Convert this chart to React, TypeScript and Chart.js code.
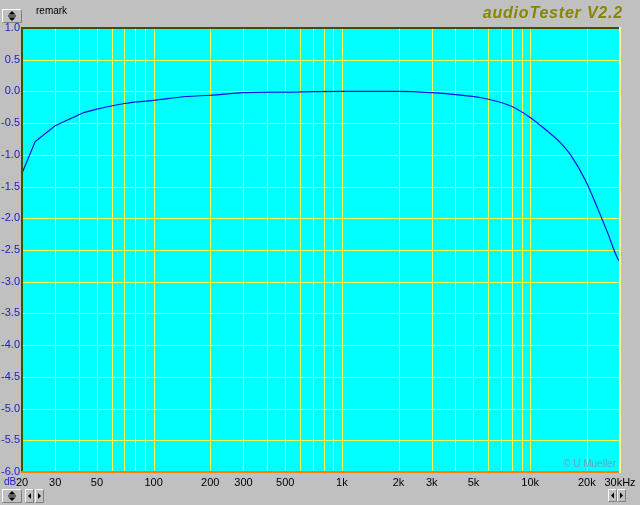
import React, { useEffect, useRef } from "react";
import { Chart, registerables } from "chart.js";

Chart.register(...registerables);

const freqsLow = [20, 23.5, 30, 42];
const levelsLow = [-1.29, -0.79, -0.54, -0.34];
const freqs = [42, 50, 70, 100, 150, 200, 300, 500, 1000, 2000, 3000, 4000, 5500, 7900, 10000, 12400, 14500, 16400, 19800, 22800, 25800, 29100, 30000];
const levels = [-0.34, -0.28, -0.19, -0.14, -0.08, -0.06, -0.02, -0.01, 0, 0, -0.02, -0.05, -0.1, -0.23, -0.41, -0.63, -0.81, -1.0, -1.42, -1.84, -2.23, -2.63, -2.68];

const gridFreqs = [20, 30, 40, 50, 60, 70, 80, 90, 100, 200, 300, 400, 500, 600, 700, 800, 900, 1000, 2000, 3000, 4000, 5000, 6000, 7000, 8000, 9000, 10000, 20000, 30000];
const labelFreqs = [20, 30, 50, 100, 200, 300, 500, 1000, 2000, 3000, 5000, 10000, 20000, 30000];
const labelTexts = ["20", "30", "50", "100", "200", "300", "500", "1k", "2k", "3k", "5k", "10k", "20k", "30kHz"];
const yTicks = [1.0, 0.5, 0.0, -0.5, -1.0, -1.5, -2.0, -2.5, -3.0, -3.5, -4.0, -4.5, -5.0, -5.5, -6.0];

const FONT = "'Liberation Sans', Arial, sans-serif";
const GRID = "#f4ff50";

function button(ctx: CanvasRenderingContext2D, x: number, y: number, w: number, h: number) {
  ctx.fillStyle = "#c0c0c0";
  ctx.fillRect(x, y, w, h);
  ctx.strokeStyle = "#ffffff";
  ctx.lineWidth = 1;
  ctx.beginPath();
  ctx.moveTo(x + 0.5, y + h - 0.5);
  ctx.lineTo(x + 0.5, y + 0.5);
  ctx.lineTo(x + w - 0.5, y + 0.5);
  ctx.stroke();
  ctx.strokeStyle = "#808080";
  ctx.beginPath();
  ctx.moveTo(x + w - 0.5, y + 0.5);
  ctx.lineTo(x + w - 0.5, y + h - 0.5);
  ctx.lineTo(x + 0.5, y + h - 0.5);
  ctx.stroke();
}

function tri(ctx: CanvasRenderingContext2D, pts: number[][]) {
  ctx.fillStyle = "#000";
  ctx.beginPath();
  ctx.moveTo(pts[0][0], pts[0][1]);
  for (let i = 1; i < pts.length; i++) ctx.lineTo(pts[i][0], pts[i][1]);
  ctx.closePath();
  ctx.fill();
}

function upDown(ctx: CanvasRenderingContext2D, x: number, y: number, w: number, h: number) {
  button(ctx, x, y, w, h);
  const cx = x + w / 2;
  const cy = y + h / 2;
  tri(ctx, [[cx - 3.5, cy - 1.5], [cx + 3.5, cy - 1.5], [cx, cy - 5]]);
  tri(ctx, [[cx - 3.5, cy + 1.5], [cx + 3.5, cy + 1.5], [cx, cy + 5]]);
  ctx.fillRect(cx - 4, cy - 0.5, 8, 1);
}

function leftRight(ctx: CanvasRenderingContext2D, x: number, y: number, w: number, h: number, left: boolean) {
  button(ctx, x, y, w, h);
  const cx = x + w / 2;
  const cy = y + h / 2;
  if (left) tri(ctx, [[cx + 1.5, cy - 3], [cx + 1.5, cy + 3], [cx - 1.5, cy]]);
  else tri(ctx, [[cx - 1.5, cy - 3], [cx - 1.5, cy + 3], [cx + 1.5, cy]]);
}

const decorPlugin = {
  id: "decor",
  beforeDraw(chart: any) {
    const { ctx, chartArea: a } = chart;
    ctx.save();
    ctx.fillStyle = "#c0c0c0";
    ctx.fillRect(0, 0, chart.width, chart.height);
    ctx.fillStyle = "#00ffff";
    ctx.fillRect(a.left, a.top, a.right - a.left, a.bottom - a.top);
    ctx.restore();
  },
  beforeDatasetsDraw(chart: any) {
    const { ctx, chartArea: a, scales } = chart;
    ctx.save();
    ctx.strokeStyle = GRID;
    ctx.lineWidth = 1;
    ctx.beginPath();
    for (const f of gridFreqs) {
      const x = Math.round(scales.x.getPixelForValue(f)) + 0.5;
      ctx.moveTo(x, a.top);
      ctx.lineTo(x, a.bottom);
    }
    for (const v of yTicks) {
      const y = Math.round(scales.y.getPixelForValue(v)) + 0.5;
      ctx.moveTo(a.left, y);
      ctx.lineTo(a.right, y);
    }
    ctx.stroke();
    ctx.restore();
  },
  afterDraw(chart: any) {
    const { ctx, chartArea: a } = chart;
    ctx.save();
    // borders
    ctx.fillStyle = "#4a4a00";
    ctx.fillRect(a.left - 1, a.top - 1, a.right - a.left + 2, 2);
    ctx.fillStyle = "#2e5a00";
    ctx.fillRect(a.left - 1, a.top - 1, 2, a.bottom - a.top + 2);
    ctx.fillStyle = "#ff8000";
    ctx.fillRect(a.left - 1, a.bottom - 1, a.right - a.left + 2, 2);
    ctx.fillStyle = "#ffff90";
    ctx.fillRect(a.right - 1, a.top - 1, 2, a.bottom - a.top + 2);

    // texts
    ctx.textBaseline = "middle";
    ctx.textAlign = "left";
    ctx.fillStyle = "#000";
    ctx.font = `10px ${FONT}`;
    ctx.fillText("remark", 36, 11);

    ctx.textAlign = "right";
    ctx.textBaseline = "alphabetic";
    ctx.fillStyle = "#868600";
    ctx.font = `italic bold 16px ${FONT}`;
    (ctx as any).letterSpacing = "0.8px";
    ctx.fillText("audioTester V2.2", 623, 18);
    (ctx as any).letterSpacing = "0px";

    ctx.textBaseline = "middle";
    ctx.fillStyle = "#6f9fbf";
    ctx.font = `10px ${FONT}`;
    ctx.fillText("\u00a9 U Mueller", 616, 464);

    ctx.textAlign = "left";
    ctx.fillStyle = "#2020c0";
    ctx.font = `10px ${FONT}`;
    ctx.fillText("dB", 4, 482);

    // buttons
    upDown(ctx, 2, 9, 20, 14);
    upDown(ctx, 2, 489, 20, 14);
    leftRight(ctx, 25, 489, 9, 14, true);
    leftRight(ctx, 35, 489, 9, 14, false);
    leftRight(ctx, 608, 489, 9, 13, true);
    leftRight(ctx, 617, 489, 9, 13, false);
    ctx.restore();
  },
};

export default function App() {
  const ref = useRef<HTMLCanvasElement>(null);
  useEffect(() => {
    document.body.style.margin = "0";
    const chart = new Chart(ref.current!, {
      type: "line",
      data: {
        datasets: [
          {
            data: freqsLow.map((f, i) => ({ x: f, y: levelsLow[i] })),
            borderColor: "#0010e0",
            borderWidth: 1.2,
            pointRadius: 0,
            tension: 0,
            fill: false,
          },
          {
            data: freqs.map((f, i) => ({ x: f, y: levels[i] })),
            borderColor: "#0010e0",
            borderWidth: 1.2,
            pointRadius: 0,
            cubicInterpolationMode: "monotone",
            fill: false,
          },
        ],
      },
      options: {
        responsive: false,
        animation: false,
        layout: { padding: { top: 28, right: 20, left: 0, bottom: 0 } },
        plugins: { legend: { display: false }, tooltip: { enabled: false } },
        scales: {
          x: {
            type: "logarithmic",
            min: 20,
            max: 30000,
            afterBuildTicks: (s: any) => {
              s.ticks = gridFreqs.map((v) => ({ value: v }));
            },
            afterFit: (s: any) => {
              s.height = 33;
            },
            grid: { display: false, drawTicks: false },
            border: { display: false },
            ticks: {
              autoSkip: false,
              maxRotation: 0,
              minRotation: 0,
              padding: 4,
              color: "#000",
              font: { family: FONT, size: 11 },
              callback: (v: any) => {
                const i = labelFreqs.indexOf(Number(v));
                return i >= 0 ? labelTexts[i] : "";
              },
            },
          },
          y: {
            min: -6,
            max: 1,
            afterBuildTicks: (s: any) => {
              s.ticks = yTicks.map((v) => ({ value: v }));
            },
            afterFit: (s: any) => {
              s.width = 22;
            },
            grid: { display: false, drawTicks: false },
            border: { display: false },
            ticks: {
              padding: 2,
              color: "#2020c0",
              font: { family: FONT, size: 11 },
              callback: (v: any) => Number(v).toFixed(1),
            },
          },
        },
      },
      plugins: [decorPlugin],
    } as any);
    return () => chart.destroy();
  }, []);
  return (
    <div style={{ position: "absolute", left: 0, top: 0, width: 640, height: 505 }}>
      <canvas ref={ref} width={640} height={505} />
    </div>
  );
}
